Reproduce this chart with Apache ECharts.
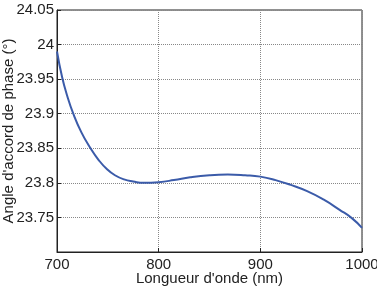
<!DOCTYPE html>
<html>
<head>
<meta charset="utf-8">
<script src="https://cdn.jsdelivr.net/npm/echarts@6/dist/echarts.min.js"></script>
<style>
  html, body { margin: 0; padding: 0; background: #fff; }
  #chart { width: 377px; height: 291px; }
</style>
</head>
<body>
<div id="chart"></div>
<script>
// wavelength (nm) and phase-matching angle (deg)
const wavelength = [700, 705, 710, 716, 724, 733, 741, 749, 757, 766, 775, 785, 800, 815, 831, 850, 868, 885, 900, 915, 930, 946, 962, 978, 990, 1000];
const angle = [23.990, 23.953, 23.926, 23.900, 23.873, 23.850, 23.833, 23.820, 23.811, 23.805, 23.802, 23.800, 23.801, 23.804, 23.808, 23.811, 23.812, 23.811, 23.809, 23.804, 23.797, 23.788, 23.776, 23.761, 23.749, 23.735];

const xTicks = [700, 800, 900, 1000];
const yMin = 23.7, yMax = 24.05, yStep = 0.05;

const font = '"Liberation Sans", Arial, sans-serif';
const chart = echarts.init(document.getElementById('chart'));

chart.setOption({
  backgroundColor: '#fff',
  animation: false,
  grid: {
    left: 57, right: 15, top: 10, bottom: 39,
    containLabel: false, outerBoundsMode: 'none',
    show: true, borderColor: '#222', borderWidth: 1, backgroundColor: 'transparent'
  },
  xAxis: {
    type: 'value',
    min: xTicks[0], max: xTicks[xTicks.length - 1], interval: 100,
    name: "Longueur d'onde (nm)",
    nameLocation: 'middle', nameGap: 19, nameMoveOverlap: false,
    nameTextStyle: { color: '#222', fontSize: 15, fontFamily: font },
    axisLine: { show: true, lineStyle: { color: '#222', width: 1 } },
    axisTick: { show: true, inside: true, length: 4, lineStyle: { color: '#222' } },
    axisLabel: {
      color: '#222', fontSize: 15, fontFamily: font, margin: 5, showMaxLabel: true,
      formatter: v => String(v)
    },
    splitLine: { show: true, lineStyle: { color: '#888', type: 'dotted', width: 1 } }
  },
  yAxis: {
    type: 'value',
    min: yMin, max: yMax, interval: yStep,
    name: "Angle d'accord de phase (°)",
    nameLocation: 'middle', nameGap: 41, nameRotate: 90, nameMoveOverlap: false,
    nameTextStyle: { color: '#222', fontSize: 15, fontFamily: font },
    axisLine: { show: true, lineStyle: { color: '#222', width: 1 } },
    axisTick: { show: true, inside: true, length: 4, lineStyle: { color: '#222' } },
    axisLabel: {
      color: '#222', fontSize: 15, fontFamily: font, margin: 3,
      showMinLabel: false,
      formatter: v => String(parseFloat(v.toFixed(2)))
    },
    splitLine: { show: true, lineStyle: { color: '#888', type: 'dotted', width: 1 } }
  },
  series: [{
    type: 'line',
    data: wavelength.map((w, i) => [w, angle[i]]),
    smooth: 0.5,
    showSymbol: false,
    lineStyle: { color: '#3b5ba9', width: 2 }
  }]
});
</script>
</body>
</html>
